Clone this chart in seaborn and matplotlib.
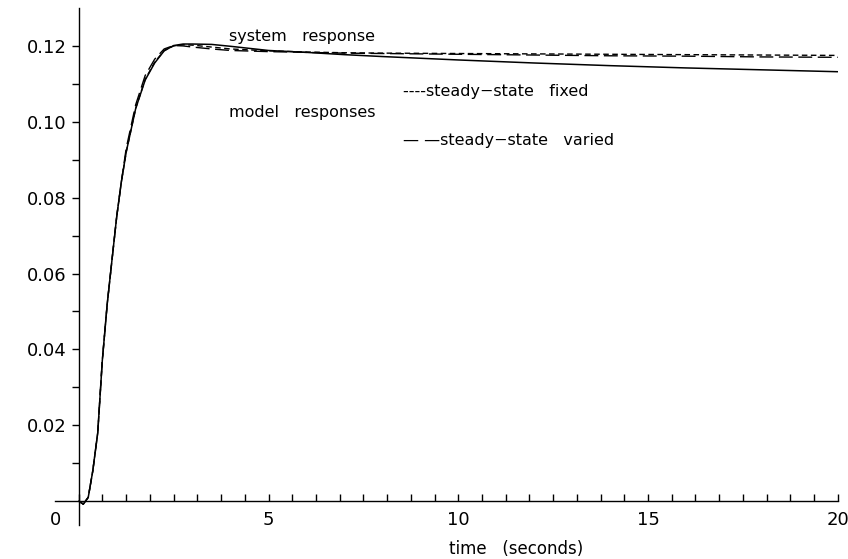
import pandas as pd
import matplotlib
matplotlib.use("Agg")
import matplotlib.pyplot as plt
import matplotlib.transforms as mtransforms
from matplotlib.ticker import FixedLocator
import seaborn as sns

# time axis (seconds) and the three responses
time = [0, 0.12, 0.25, 0.37, 0.5, 0.62, 0.75, 0.88, 1.0, 1.12, 1.25, 1.5, 1.75,
        2.0, 2.25, 2.5, 2.75, 3.0, 3.5, 4, 5, 6, 7, 8, 10, 12, 14, 16, 18, 20]
system_resp = [0, -0.0008, 0.001, 0.008, 0.018, 0.037, 0.052, 0.064, 0.075, 0.084,
               0.092, 0.1035, 0.111, 0.1155, 0.1187, 0.1201, 0.1205, 0.1205, 0.1204,
               0.1199, 0.1188, 0.1183, 0.1177, 0.1172, 0.1163, 0.1155, 0.1148,
               0.1142, 0.1137, 0.1132]
ss_fixed = [0, -0.0008, 0.001, 0.008, 0.018, 0.037, 0.052, 0.064, 0.075, 0.084,
            0.092, 0.1035, 0.1112, 0.1157, 0.1188, 0.1200, 0.1203, 0.1202, 0.1197,
            0.1192, 0.1187, 0.1184, 0.1182, 0.1181, 0.1180, 0.1179, 0.1178,
            0.1177, 0.1176, 0.1175]
ss_varied = [0, -0.0008, 0.001, 0.008, 0.018, 0.037, 0.052, 0.064, 0.075, 0.084,
             0.093, 0.1045, 0.1122, 0.1165, 0.1192, 0.1201, 0.1200, 0.1197, 0.1192,
             0.1188, 0.1185, 0.1183, 0.1181, 0.1180, 0.1178, 0.1176, 0.1174,
             0.1173, 0.1171, 0.1170]

x_labels = ["0", "5", "10", "15", "20"]
y_labels = ["0.02", "0.04", "0.06", "0.08", "0.10", "0.12"]

df = pd.DataFrame({"t": time, "system": system_resp,
                   "fixed": ss_fixed, "varied": ss_varied})

sns.set_style("ticks")
plt.rcParams["font.family"] = ["DejaVu Sans"]
plt.rcParams["text.color"] = "black"

fig = plt.figure(figsize=(8.48, 5.59), dpi=100)
ax = fig.add_axes([0.0649, 0.0608, 0.9231, 0.9249])

sns.lineplot(data=df, x="t", y="system", ax=ax, color="black", lw=1.1)
sns.lineplot(data=df, x="t", y="fixed", ax=ax, color="black", lw=1.0,
             dashes=False, linestyle=(0, (4, 2.5)))
sns.lineplot(data=df, x="t", y="varied", ax=ax, color="black", lw=1.0,
             dashes=False, linestyle=(0, (10, 4)))

ax.set_xlim(-0.625, 20)
ax.set_ylim(-0.0063, 0.13)

for s in ["top", "right"]:
    ax.spines[s].set_visible(False)
ax.spines["left"].set_position(("data", 0))
ax.spines["bottom"].set_position(("data", 0))
for s in ["left", "bottom"]:
    ax.spines[s].set_linewidth(1.0)
    ax.spines[s].set_color("black")

ax.set_xticks([0, 5, 10, 15, 20])
ax.set_xticklabels(x_labels, fontsize=13)
ax.xaxis.set_minor_locator(FixedLocator([i * 0.625 for i in range(1, 32)]))
ax.set_yticks([0.02, 0.04, 0.06, 0.08, 0.10, 0.12])
ax.set_yticklabels(y_labels, fontsize=13)
ax.yaxis.set_minor_locator(FixedLocator([0.01, 0.03, 0.05, 0.07, 0.09, 0.11]))

ax.tick_params(axis="x", which="both", direction="in", length=5, width=1,
               pad=7, colors="black", bottom=True, top=False)
ax.tick_params(axis="y", which="both", direction="out", length=5, width=1,
               pad=4, colors="black", left=True, right=False)

# the "0" on the time axis sits left of the vertical axis
zero = ax.get_xticklabels()[0]
zero.set_transform(zero.get_transform() +
                   mtransforms.ScaledTranslation(-0.23, 0, fig.dpi_scale_trans))

ax.set_xlabel("")
ax.set_ylabel("")
fig.text(516 / 848, 1 - 549 / 559, "time   (seconds)", fontsize=12,
         ha="center", va="center", color="black")

ax.text(3.95, 0.1226, "system   response", fontsize=11.5, va="center", color="black")
ax.text(3.95, 0.1024, "model   responses", fontsize=11.5, va="center", color="black")
ax.text(8.55, 0.1081, "----steady\u2212state   fixed", fontsize=11.5, va="center",
        color="black")
ax.text(8.55, 0.0950, "\u2014 \u2014steady\u2212state   varied", fontsize=11.5,
        va="center", color="black")

fig.savefig("out.png", dpi=100)
